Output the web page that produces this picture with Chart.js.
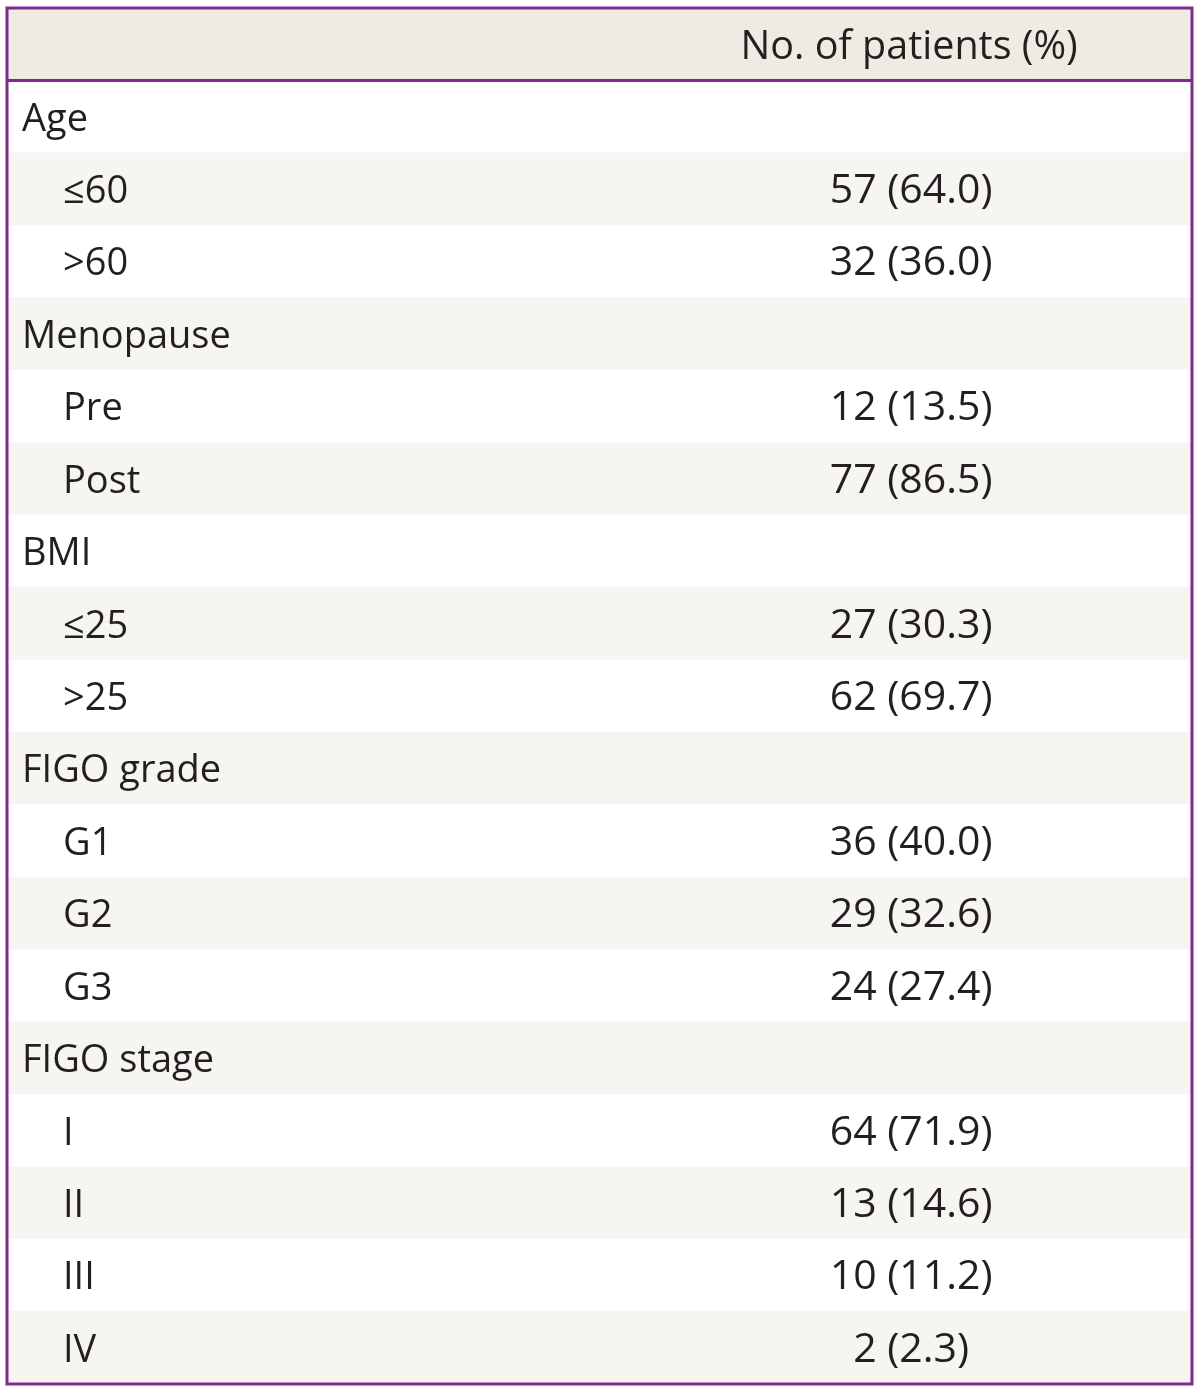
<!DOCTYPE html>
<html>
<head>
<meta charset="utf-8">
<script src="https://cdn.jsdelivr.net/npm/chart.js@4"></script>
<style>
    body { margin: 0; background: #ffffff; }
    #wrap { width: 1200px; height: 1390px; position: relative; }
</style>
</head>
<body>
<div id="wrap"><canvas id="patientTable"></canvas></div>
<script>
// table rows (first entry is the header row)
const headerText = 'No. of patients (%)';
const rowLabels = ['Age', '≤60', '>60', 'Menopause', 'Pre', 'Post', 'BMI', '≤25', '>25',
    'FIGO grade', 'G1', 'G2', 'G3', 'FIGO stage', 'I', 'II', 'III', 'IV'];
const rowIndent = [0, 1, 1, 0, 1, 1, 0, 1, 1, 0, 1, 1, 1, 0, 1, 1, 1, 1];
const patientCounts = [null, 57, 32, null, 12, 77, null, 27, 62, null, 36, 29, 24, null, 64, 13, 10, 2];
const patientPercents = [null, '64.0', '36.0', null, '13.5', '86.5', null, '30.3', '69.7', null,
    '40.0', '32.6', '27.4', null, '71.9', '14.6', '11.2', '2.3'];

const purple = '#7d2a8c';
const textColor = '#231f20';

const categories = ['header', ...rowLabels];
const rowColors = categories.map((c, i) => {
    if (i === 0) return '#efebe3';
    return (i % 2 === 0) ? '#f6f5f1' : '#ffffff';
});

const tableText = {
    id: 'tableText',
    afterDatasetsDraw(chart) {
        const ctx = chart.ctx;
        const area = chart.chartArea;
        const y = chart.scales.y;
        const x = chart.scales.x;
        const valueX = x.getPixelForValue(0.763);

        ctx.save();
        ctx.fillStyle = textColor;
        ctx.textBaseline = 'alphabetic';

        // header
        ctx.font = '39.5px "Open Sans"';
        ctx.textAlign = 'center';
        ctx.fillText(headerText, valueX - 2, y.getPixelForValue(0) + 15);

        rowLabels.forEach((label, i) => {
            const py = y.getPixelForValue(i + 1) + 14;
            ctx.font = '38px "Open Sans"';
            ctx.textAlign = 'left';
            ctx.fillText(label, rowIndent[i] ? area.left + 56 : area.left + 15, py);
            if (patientCounts[i] !== null) {
                ctx.font = '41px "Open Sans"';
                ctx.textAlign = 'center';
                ctx.fillText(patientCounts[i] + ' (' + patientPercents[i] + ')', valueX, py);
            }
        });

        // borders
        ctx.strokeStyle = purple;
        ctx.lineWidth = 3;
        ctx.strokeRect(area.left, area.top, area.right - area.left, area.bottom - area.top);
        const headerBottom = (y.getPixelForValue(0) + y.getPixelForValue(1)) / 2;
        ctx.beginPath();
        ctx.moveTo(area.left, headerBottom);
        ctx.lineTo(area.right, headerBottom);
        ctx.stroke();
        ctx.restore();
    }
};

new Chart(document.getElementById('patientTable'), {
    type: 'bar',
    data: {
        labels: categories,
        datasets: [{
            data: categories.map(() => 1),
            backgroundColor: rowColors,
            borderWidth: 0,
            barPercentage: 1,
            categoryPercentage: 1
        }]
    },
    options: {
        indexAxis: 'y',
        responsive: true,
        maintainAspectRatio: false,
        animation: false,
        layout: { padding: { left: 7, right: 8, top: 8, bottom: 6 } },
        scales: {
            x: { display: false, min: 0, max: 1 },
            y: { display: false }
        },
        plugins: {
            legend: { display: false },
            tooltip: { enabled: false }
        }
    },
    plugins: [tableText]
});
</script>
</body>
</html>
